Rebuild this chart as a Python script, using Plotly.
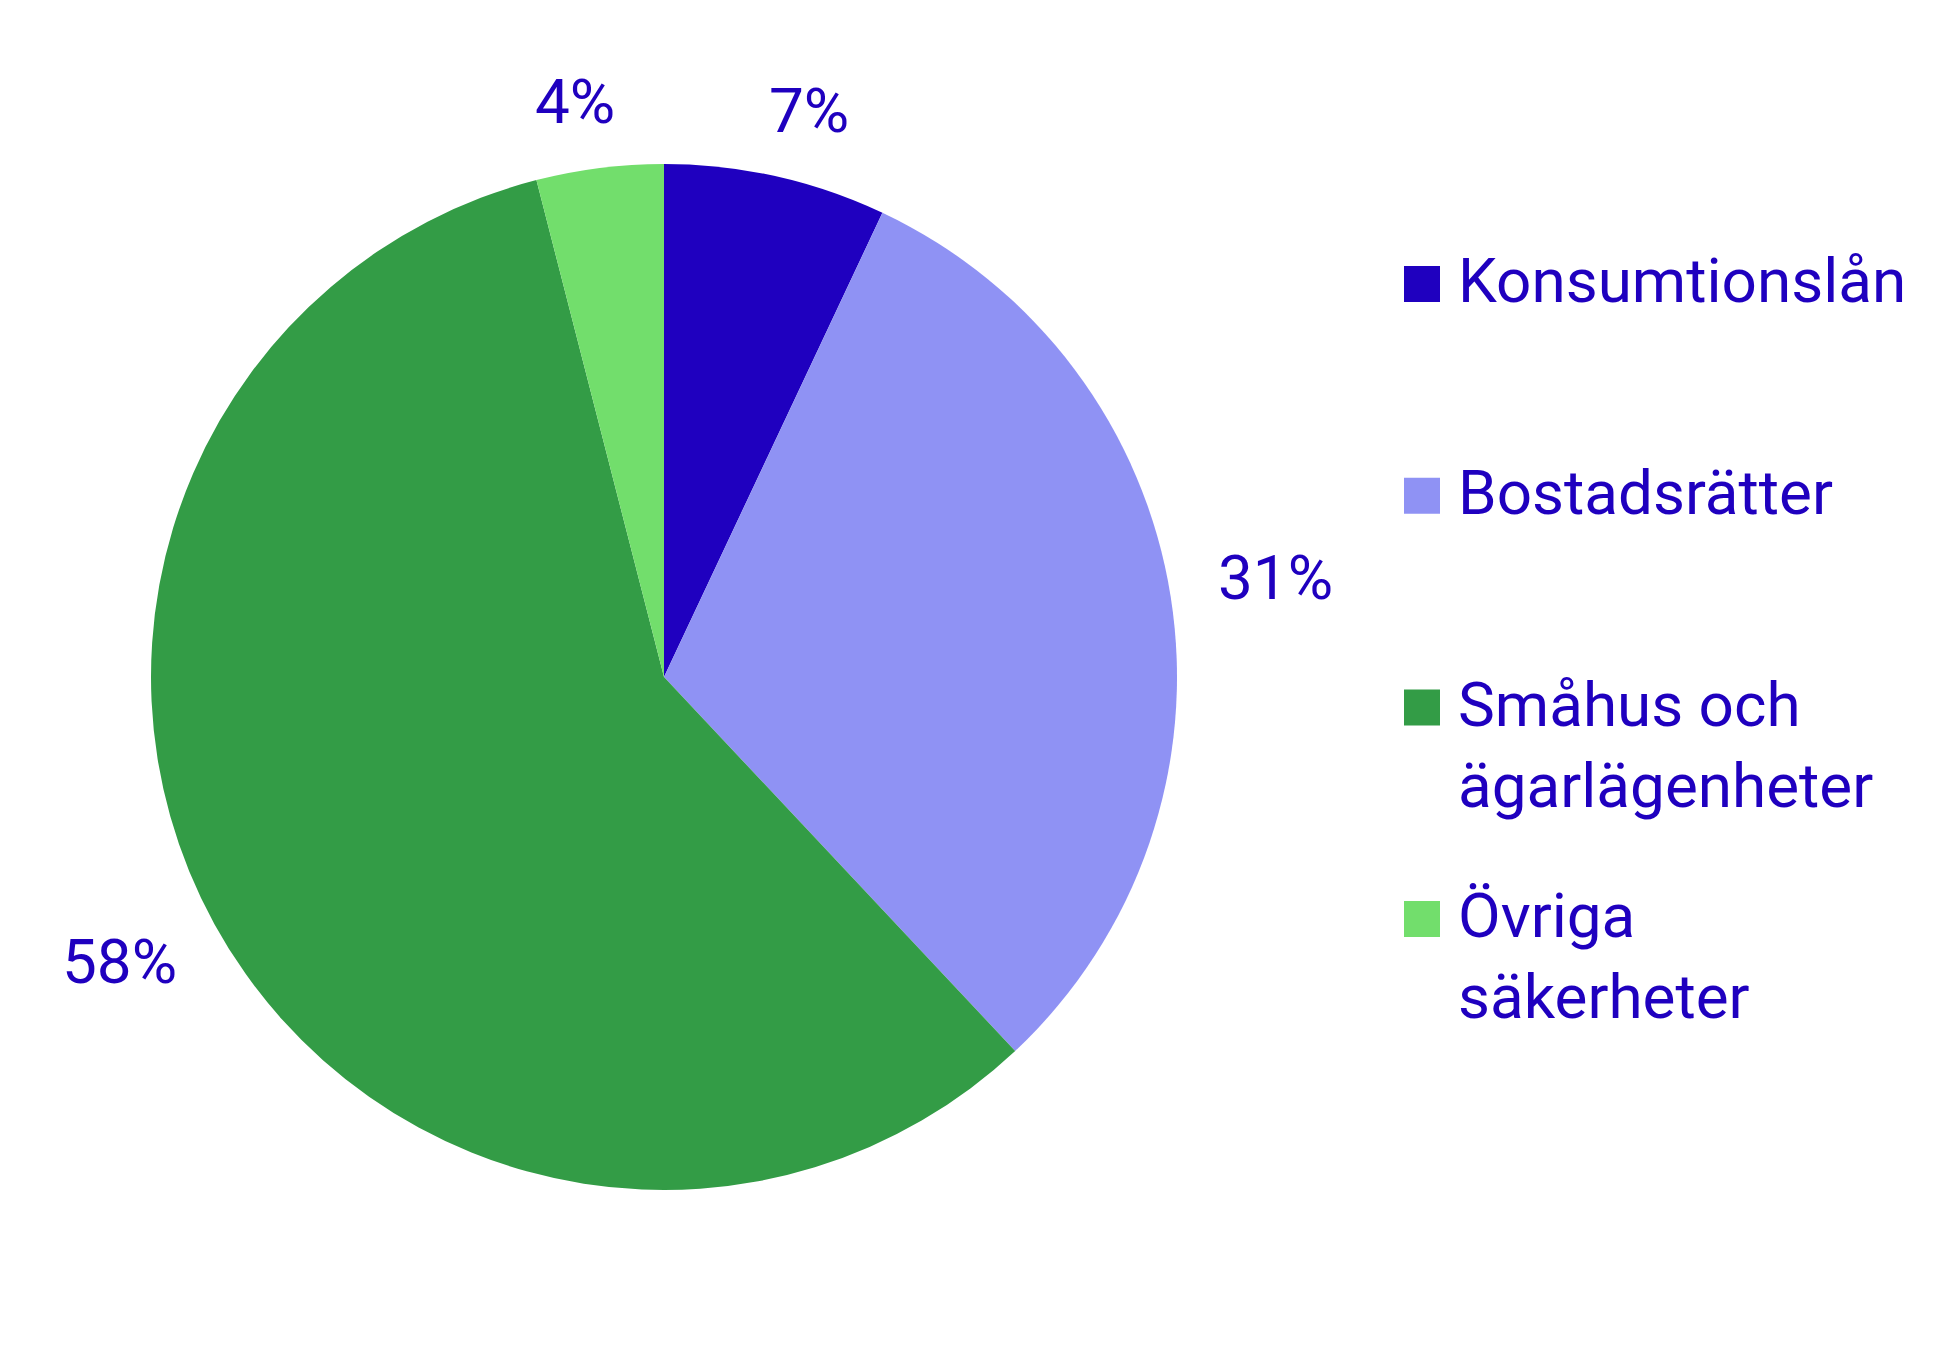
import math
import plotly.graph_objects as go

# ---- data ----
categories = ["Konsumtionslån", "Bostadsrätter", "Småhus och ägarlägenheter", "Övriga säkerheter"]
legend_labels = ["Konsumtionslån", "Bostadsrätter", "Småhus och<br>ägarlägenheter", "Övriga<br>säkerheter"]
values = [7, 31, 58, 4]
value_labels = ["7%", "31%", "58%", "4%"]

# ---- style ----
colors = ["#1F00BF", "#8F92F4", "#339C46", "#72DE6C"]
text_color = "#1F00BF"
W, H = 1960, 1355
cx, cy, r = 664, 677, 513  # pixel centre / radius of the pie
font_family = "Roboto"
fs = 62

fig = go.Figure()
fig.add_trace(go.Pie(
    labels=categories,
    values=values,
    sort=False,
    direction="clockwise",
    rotation=0,
    textinfo="none",
    hoverinfo="label+percent",
    marker=dict(colors=colors, line=dict(width=0)),
    domain=dict(x=[(cx - r) / W, (cx + r) / W], y=[1 - (cy + r) / H, 1 - (cy - r) / H]),
    showlegend=False,
))

annotations = []
shapes = []

# value labels outside each slice, placed along the slice mid-angle
total = sum(values)
cum = 0
gap_x, gap_y = 93, 57
pad_x, pad_y = 13, 10
for v, lab in zip(values, value_labels):
    mid = (cum + v / 2) / total * 2 * math.pi
    cum += v
    ux, uy = math.sin(mid), -math.cos(mid)
    px = cx + (r + gap_x) * ux + math.copysign(pad_x, ux)
    py = cy + (r + gap_y) * uy + math.copysign(pad_y, uy)
    annotations.append(dict(
        x=px / W, y=1 - py / H, xref="paper", yref="paper",
        text=lab, showarrow=False, xanchor="center", yanchor="middle",
        font=dict(family=font_family, size=fs, color=text_color),
    ))

# legend (drawn manually to match large square symbols)
leg_x_sq = 1404
sq = 36
leg_x_txt = 1457
first_base = 303
step = 211.7
for i, (lab, col) in enumerate(zip(legend_labels, colors)):
    base = first_base + i * step
    shapes.append(dict(
        type="rect", xref="paper", yref="paper",
        x0=leg_x_sq / W, x1=(leg_x_sq + sq) / W,
        y0=1 - (base - 1) / H, y1=1 - (base - 1 - sq) / H,
        fillcolor=col, line=dict(width=0),
    ))
    top = base - 0.93 * fs - 2
    annotations.append(dict(
        x=leg_x_txt / W, y=1 - top / H, xref="paper", yref="paper",
        text=lab, showarrow=False, xanchor="left", yanchor="top", align="left",
        borderpad=0,
        font=dict(family=font_family, size=fs, color=text_color),
    ))

fig.update_layout(
    width=W, height=H,
    margin=dict(l=0, r=0, t=0, b=0),
    paper_bgcolor="white",
    plot_bgcolor="white",
    annotations=annotations,
    shapes=shapes,
    font=dict(family=font_family, color=text_color),
)

fig.write_html(
    "out.html",
    config={"displayModeBar": False},
    post_script="document.body.style.margin='0';document.body.style.overflow='hidden';",
)
